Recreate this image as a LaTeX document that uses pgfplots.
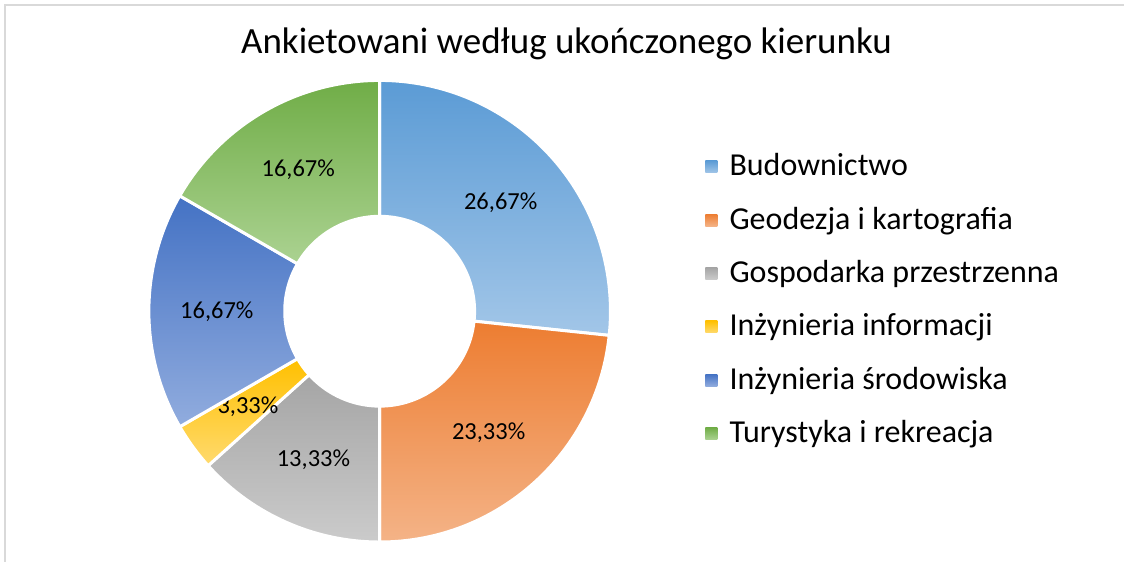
\documentclass[border=0pt]{standalone}
\usepackage{pgfplots}
\pgfplotsset{compat=1.18}
\usepackage{pgfplotstable}
\usepackage{fontspec}
\setmainfont{Carlito}

\definecolor{c1t}{HTML}{5B9BD5}\definecolor{c1b}{HTML}{A2C6E8}
\definecolor{c2t}{HTML}{ED7D31}\definecolor{c2b}{HTML}{F4B387}
\definecolor{c3t}{HTML}{A5A5A5}\definecolor{c3b}{HTML}{CBCBCB}
\definecolor{c4t}{HTML}{FFC000}\definecolor{c4b}{HTML}{FFDA6E}
\definecolor{c5t}{HTML}{4472C4}\definecolor{c5b}{HTML}{91ACDE}
\definecolor{c6t}{HTML}{70AD47}\definecolor{c6b}{HTML}{ABD291}
\definecolor{framegray}{HTML}{D9D9D9}

\pgfplotstableread[col sep=semicolon]{
name;pct
Budownictwo;26.67
Geodezja i kartografia;23.33
Gospodarka przestrzenna;13.33
Inżynieria informacji;3.33
Inżynieria środowiska;16.67
Turystyka i rekreacja;16.67
}\donut

% #1 row, #2 pct macro, #3 start, #4 end, #5 mid, #6 name
\newcommand\setslice[6]{%
  \pgfplotstablegetelem{#1}{pct}\of\donut
  \let#2\pgfplotsretval
  \let#3\angcur
  \pgfmathsetmacro\angcur{\angcur-3.6*#2}%
  \let#4\angcur
  \pgfmathsetmacro#5{(#3+#4)/2}%
  \pgfplotstablegetelem{#1}{name}\of\donut
  \let#6\pgfplotsretval
}
% #1 start, #2 end, #3 mid, #4 pct, #5 top colour, #6 bottom colour
\newcommand\donutslice[6]{%
  \path[shift={(axis cs:380,250.5)}, top color=#5, bottom color=#6,
        draw=white, line width=3bp]
    (#1:231bp) arc[start angle=#1, end angle=#2, radius=231bp]
    -- (#2:95bp) arc[start angle=#2, end angle=#1, radius=95bp] -- cycle;
  \path[shift={(axis cs:380,250.5)}] (#3:163bp) node[font=\fontsize{24.5bp}{28bp}\selectfont, text=black]
    {\pgfmathprintnumber[assume math mode=true,use comma,fixed,fixed zerofill,precision=2]{#4}\%};
}
% #1 baseline y, #2 name, #3 top, #4 bottom
\newcommand\legentry[4]{%
  \path[top color=#3, bottom color=#4] (axis cs:706,#1+3) rectangle (axis cs:718,#1+15);
  \node[anchor=base west, font=\fontsize{32bp}{36bp}\selectfont, inner sep=0pt] at (axis cs:730,#1) {#2};
}

\begin{document}
\begin{tikzpicture}
\pgfmathsetmacro\angcur{90}
\setslice{0}{\pA}{\sA}{\eA}{\mA}{\nA}
\setslice{1}{\pB}{\sB}{\eB}{\mB}{\nB}
\setslice{2}{\pC}{\sC}{\eC}{\mC}{\nC}
\setslice{3}{\pD}{\sD}{\eD}{\mD}{\nD}
\setslice{4}{\pE}{\sE}{\eE}{\mE}{\nE}
\setslice{5}{\pF}{\sF}{\eF}{\mF}{\nF}
\begin{axis}[hide axis, scale only axis, width=1125bp, height=562bp,
  xmin=0, xmax=1125, ymin=0, ymax=562, clip=false]
\path[fill=white] (axis cs:0,0) rectangle (axis cs:1125,562);
\draw[framegray, line width=2bp] (axis cs:5.5,0) -- (axis cs:5.5,556.5) -- (axis cs:1125,556.5);
\node[anchor=base, font=\fontsize{37bp}{42bp}\selectfont, inner sep=0pt] at (axis cs:567,508) {Ankietowani według ukończonego kierunku};
\donutslice{\sA}{\eA}{\mA}{\pA}{c1t}{c1b}
\donutslice{\sB}{\eB}{\mB}{\pB}{c2t}{c2b}
\donutslice{\sC}{\eC}{\mC}{\pC}{c3t}{c3b}
\donutslice{\sD}{\eD}{\mD}{\pD}{c4t}{c4b}
\donutslice{\sE}{\eE}{\mE}{\pE}{c5t}{c5b}
\donutslice{\sF}{\eF}{\mF}{\pF}{c6t}{c6b}
\legentry{386}{\nA}{c1t}{c1b}
\legentry{332.6}{\nB}{c2t}{c2b}
\legentry{279.2}{\nC}{c3t}{c3b}
\legentry{225.8}{\nD}{c4t}{c4b}
\legentry{172.4}{\nE}{c5t}{c5b}
\legentry{119}{\nF}{c6t}{c6b}
\end{axis}
\end{tikzpicture}
\end{document}
